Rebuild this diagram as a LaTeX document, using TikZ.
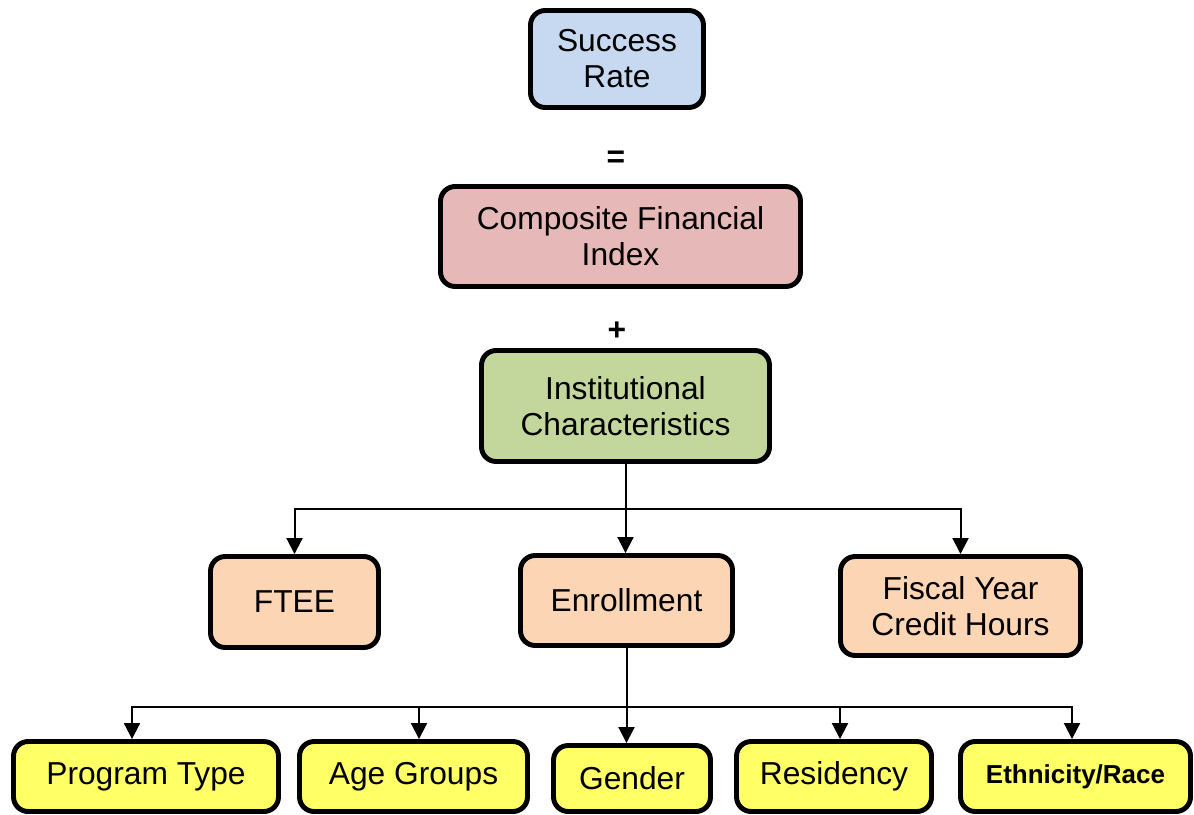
\documentclass[tikz,border=0pt]{standalone}
\usepackage{fontspec}
\setmainfont{Liberation Sans}
\usetikzlibrary{arrows.meta}

\definecolor{cBlue}{RGB}{198,217,241}
\definecolor{cRose}{RGB}{230,185,184}
\definecolor{cGreen}{RGB}{195,214,155}
\definecolor{cPeach}{RGB}{252,213,181}
\definecolor{cYellow}{RGB}{255,255,102}

\tikzset{
  box/.style={draw=black, line width=3.7pt, rounded corners=11pt,
    align=center, inner sep=0pt, text=black,
    font=\fontsize{23.8}{27}\selectfont},
  sign/.style={inner sep=0pt, font=\fontsize{23.8}{27}\selectfont\bfseries},
  link/.style={draw=black, line width=1.5pt},
  arr/.style={link, -{Triangle[width=12pt,length=12pt]}}
}

\begin{document}
\begin{tikzpicture}[x=0.75pt, y=-0.75pt]
  \useasboundingbox (0,0) rectangle (1194,814);

  % top chain
  \node[box, fill=cBlue, minimum width=129.75pt, minimum height=72.75pt]
    (succ) at (617,59) {Success\\Rate};
  \node[sign] (eq) at (616,159) {=};
  \node[box, fill=cRose, minimum width=270pt, minimum height=75pt]
    (cfi) at (620.5,236.5) {Composite Financial\\Index};
  \node[sign] (plus) at (617,331) {+};
  \node[box, fill=cGreen, minimum width=216pt, minimum height=83.25pt]
    (inst) at (625.5,406) {Institutional\\Characteristics};

  % middle row
  \node[box, fill=cPeach, minimum width=126pt, minimum height=68.25pt]
    (ftee) at (294.5,602) {FTEE};
  \node[box, fill=cPeach, minimum width=159pt, minimum height=67.5pt]
    (enr) at (626.5,600.5) {Enrollment};
  \node[box, fill=cPeach, minimum width=180pt, minimum height=74.25pt]
    (fiscal) at (960.5,606) {Fiscal Year\\Credit Hours};

  % bottom row
  \node[box, fill=cYellow, minimum width=198.75pt, minimum height=52.5pt]
    (prog) at (146,776.5) {Program Type};
  \node[box, fill=cYellow, minimum width=171pt, minimum height=52.5pt]
    (age) at (413.5,776.5) {Age Groups};
  \node[box, fill=cYellow, minimum width=117.75pt, minimum height=49.5pt]
    (gender) at (632,778.5) {Gender};
  \node[box, fill=cYellow, minimum width=146.25pt, minimum height=52.5pt]
    (res) at (834,776.5) {Residency};
  \node[box, fill=cYellow, minimum width=172.5pt, minimum height=52.5pt,
    font=\fontsize{19.5}{22}\selectfont\bfseries]
    (eth) at (1075.5,776.5) {Ethnicity/Race};

  % Institutional Characteristics -> middle row
  \coordinate (j1) at (626,509);
  \draw[arr] (inst.south) -- (inst.south |- enr.north);
  \draw[arr] (j1) -| (ftee.north);
  \draw[arr] (j1) -| (fiscal.north);

  % Enrollment -> bottom row
  \coordinate (j2) at (626.5,707);
  \coordinate (tProg) at (132,707);
  \coordinate (tAge) at (419,707);
  \coordinate (tRes) at (840,707);
  \coordinate (tEth) at (1072,707);
  \draw[arr] (enr.south) -- (enr.south |- gender.north);
  \draw[arr] (j2) -- (tProg) -- (tProg |- prog.north);
  \draw[arr] (j2) -- (tAge) -- (tAge |- age.north);
  \draw[arr] (j2) -- (tRes) -- (tRes |- res.north);
  \draw[arr] (j2) -- (tEth) -- (tEth |- eth.north);
\end{tikzpicture}
\end{document}
